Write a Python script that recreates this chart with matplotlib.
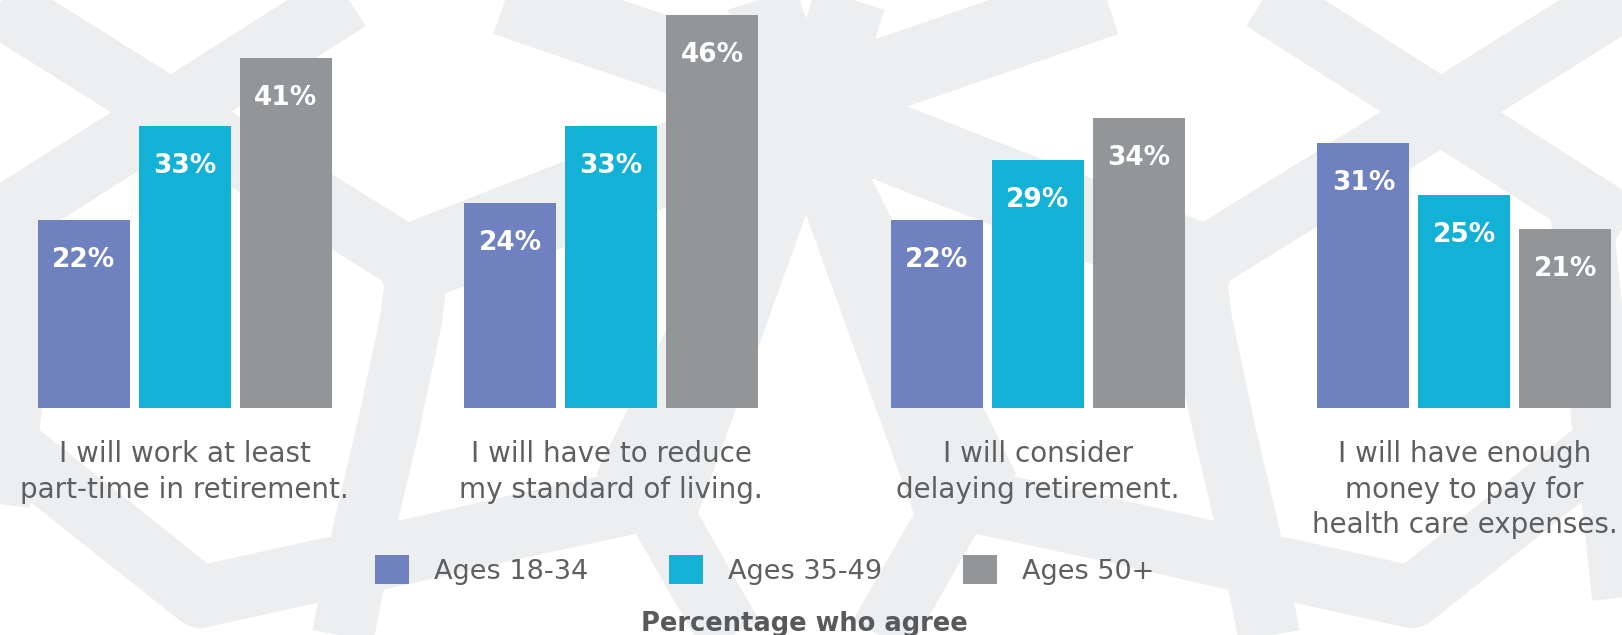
import numpy as np
import matplotlib.pyplot as plt

categories = ["I will work at least\npart-time in retirement.",
              "I will have to reduce\nmy standard of living.",
              "I will consider\ndelaying retirement.",
              "I will have enough\nmoney to pay for\nhealth care expenses."]
age_groups = ["Ages 18-34", "Ages 35-49", "Ages 50+"]
ages_18_34 = [22, 24, 22, 31]
ages_35_49 = [33, 33, 29, 25]
ages_50_plus = [41, 46, 34, 21]
footnote = "Percentage who agree"

colors = ["#6f82bf", "#14b1d6", "#939698"]
text_gray = "#5e5f61"
bg_gray = "#edeef0"

W, H = 1622, 635
fig = plt.figure(figsize=(W / 100, H / 100), dpi=100)

# decorative background pattern (pixel coords, left half, mirrored about x=806)
bands = [
    ([(-30, -14), (171, 112), (416, 264)], 64),
    ([(-30, 240), (171, 112), (380, -21)], 64),
    ([(-27, -10), (-27, 200)], 62),
    ([(33, 190), (9, 424), (-1, 504), (-13, 616), (-16, 650)], 62),
    ([(0, 438), (20, 454), (200, 597), (322, 570), (375, 560)], 62),
    ([(421, 240), (411, 320), (389, 424), (364, 530), (340, 650)], 62),
    ([(370, 560), (520, 526), (660, 496)], 64),
    ([(380, 276), (806, 110)], 80),
    ([(380, -44), (806, 102)], 74),
    ([(756, -20), (806, 140)], 72),
    ([(650, 495), (666, 522), (745, 660)], 64),
    ([(806, 40), (806, 195)], 100),
]
leg = [(741, 177), (780, 120), (806, 120), (807, 212), (698, 514),
       (660, 530), (596, 474)]

bg = fig.add_axes([0, 0, 1, 1], zorder=0)
bg.set_xlim(0, W)
bg.set_ylim(H, 0)
bg.axis("off")
for pts, w in bands:
    xs = np.array([p[0] for p in pts], dtype=float)
    ys = [p[1] for p in pts]
    for xx in (xs, 2 * 806 - xs):
        bg.plot(xx, ys, color=bg_gray, lw=w * 0.72,
                solid_capstyle="butt", solid_joinstyle="round")
lx = np.array([p[0] for p in leg], dtype=float)
ly = [p[1] for p in leg]
for xx in (lx, 2 * 806 - lx):
    bg.fill(xx, ly, color=bg_gray, lw=0)

ax = fig.add_axes([0, 0.3575, 1, 0.6425], zorder=1)
ax.patch.set_visible(False)
ax.axis("off")

x = np.arange(len(categories))
width = 0.2157
step = 0.2368
series = [ages_18_34, ages_35_49, ages_50_plus]
for k, (vals, lab, col) in enumerate(zip(series, age_groups, colors)):
    xpos = x + (k - 1) * step
    ax.bar(xpos, vals, width=width, color=col, label=lab)
    for xp, v in zip(xpos, vals):
        ax.text(xp, v - 4.7, f"{v}%", ha="center", va="center",
                color="white", fontsize=19, fontweight="bold")

for i, cat in enumerate(categories):
    ax.text(i, -3.75, cat, ha="center", va="top", fontsize=20,
            color=text_gray, linespacing=1.35, clip_on=False)

ax.set_xlim(-0.4327, 3.3694)
ax.set_ylim(0, 47.78)

handles, labels = ax.get_legend_handles_labels()
fig.legend(handles, labels, loc="center", bbox_to_anchor=(765 / W, 1 - 570 / H),
           ncol=3, frameon=False, fontsize=19.5, handlelength=1.256,
           handleheight=1.256, handletextpad=0.92, columnspacing=2.99,
           labelcolor=text_gray)

fig.text(804 / W, 1 - 631 / H, footnote, ha="center", va="baseline",
         fontsize=18.5, fontweight="bold", color="#58595b")

fig.savefig("out.png", dpi=100)
